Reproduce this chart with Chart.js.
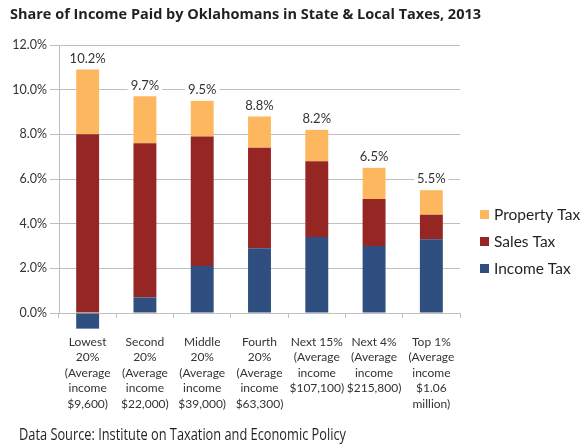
<!DOCTYPE html>
<html>
<head>
<meta charset="utf-8">
<script src="https://cdn.jsdelivr.net/npm/chart.js@4.4.0/dist/chart.umd.min.js"></script>
<style>
body { margin: 0; background: #fff; }
#wrap { width: 584px; height: 447px; }
</style>
</head>
<body>
<div id="wrap"><canvas id="taxChart" width="584" height="447"></canvas></div>
<script>
const groups = [
    ["Lowest", "20%", "(Average", "income", "$9,600)"],
    ["Second", "20%", "(Average", "income", "$22,000)"],
    ["Middle", "20%", "(Average", "income", "$39,000)"],
    ["Fourth", "20%", "(Average", "income", "$63,300)"],
    ["Next 15%", "(Average", "income", "$107,100)"],
    ["Next 4%", "(Average", "income", "$215,800)"],
    ["Top 1%", "(Average", "income", "$1.06", "million)"]
];
const incomeTax   = [-0.7, 0.7, 2.1, 2.9, 3.4, 3.0, 3.3];
const salesTax    = [8.0, 6.9, 5.8, 4.5, 3.4, 2.1, 1.1];
const propertyTax = [2.9, 2.1, 1.6, 1.4, 1.4, 1.4, 1.1];
const totals      = [10.2, 9.7, 9.5, 8.8, 8.2, 6.5, 5.5];
const yTicks      = [0, 2, 4, 6, 8, 10, 12];

const titleText  = "Share of Income Paid by Oklahomans in State & Local Taxes, 2013";
const sourceText = "Data Source: Institute on Taxation and Economic Policy";

Chart.defaults.font.family = "Lato, 'Open Sans', sans-serif";
Chart.defaults.color = "#333";

/* labels, title, legend, source */
const extras = {
    id: "extras",
    afterDatasetsDraw(chart) {
        const ctx = chart.ctx;
        const top = chart.getDatasetMeta(2).data;
        ctx.save();
        ctx.font = "13px Lato, sans-serif";
        ctx.textAlign = "center";
        ctx.textBaseline = "middle";
        totals.forEach((t, i) => {
            const txt = t.toFixed(1) + "%";
            const x = top[i].x, y = top[i].y - 11;
            const w = ctx.measureText(txt).width;
            ctx.fillStyle = "#fff";
            ctx.fillRect(x - w / 2 - 3, y - 7, w + 6, 14);
            ctx.fillStyle = "#333";
            ctx.fillText(txt, x, y);
        });
        ctx.restore();
    },
    afterDraw(chart) {
        const ctx = chart.ctx;
        ctx.save();
        ctx.textBaseline = "middle";
        ctx.fillStyle = "#231f20";
        ctx.font = "bold 14.5px 'Open Sans', sans-serif";
        ctx.fillText(titleText, 10, 15);

        // condensed source line
        ctx.font = "16px 'Open Sans', sans-serif";
        const sw = ctx.measureText(sourceText).width;
        ctx.save();
        ctx.translate(19, 435);
        ctx.scale(327 / sw, 1);
        ctx.fillText(sourceText, 0, 0);
        ctx.restore();

        ctx.font = "15.5px Lato, sans-serif";
        const ds = chart.data.datasets.slice().reverse();
        ds.forEach((d, i) => {
            const y = 214.5 + i * 27;
            ctx.fillStyle = d.backgroundColor;
            ctx.fillRect(480, y - 4.5, 9, 9);
            ctx.fillStyle = "#231f20";
            ctx.fillText(d.label, 494, y);
        });
        ctx.restore();
    }
};

new Chart(document.getElementById("taxChart"), {
    type: "bar",
    data: {
        labels: groups,
        datasets: [
            { label: "Income Tax", data: incomeTax, backgroundColor: "#2e4f7f" },
            { label: "Sales Tax", data: salesTax, backgroundColor: "#952623" },
            { label: "Property Tax", data: propertyTax, backgroundColor: "#fdb85f" }
        ]
    },
    options: {
        responsive: false,
        animation: false,
        layout: { padding: { top: 45, right: 124, left: 0, bottom: 0 } },
        datasets: { bar: { categoryPercentage: 1, barPercentage: 0.4, clip: false } },
        plugins: { legend: { display: false }, tooltip: { enabled: false } },
        scales: {
            x: {
                stacked: true,
                afterFit(s) { s.height = 134; },
                grid: { drawOnChartArea: false, offset: true, tickLength: 5, color: "#bfbfbf" },
                border: { color: "#bfbfbf" },
                ticks: {
                    autoSkip: false, maxRotation: 0, padding: 16,
                    font: { size: 12, lineHeight: 1.3 }, color: "#333"
                }
            },
            y: {
                stacked: true,
                min: 0, max: 12,
                afterFit(s) { s.width = 59; },
                afterBuildTicks(s) { s.ticks = yTicks.map(v => ({ value: v })); },
                grid: { color: "#bfbfbf", tickLength: 9 },
                border: { color: "#bfbfbf" },
                ticks: {
                    padding: 3,
                    font: { size: 12.5 }, color: "#333",
                    callback: v => v.toFixed(1) + "%"
                }
            }
        }
    },
    plugins: [extras]
});
</script>
</body>
</html>
